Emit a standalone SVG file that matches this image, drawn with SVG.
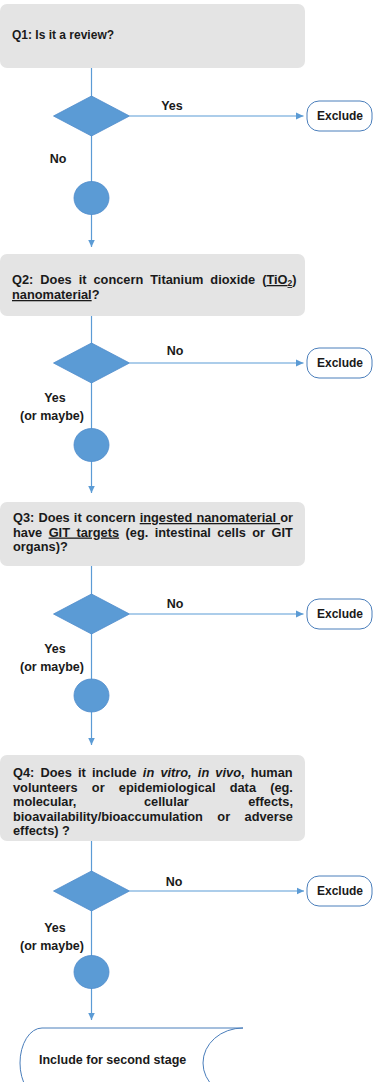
<svg xmlns="http://www.w3.org/2000/svg" width="373" height="1082" viewBox="0 0 373 1082">
<defs>
<style>
.box{fill:#e4e4e4}
.t{font-family:"Liberation Sans",Arial,sans-serif;font-weight:bold;font-size:12px;fill:#1a1a1a}
.q{font-size:12.8px}
.lb{font-size:12.5px}
.m{text-anchor:middle}
.ln{stroke:#5b9bd5;stroke-width:1.2;fill:none}
.dia{fill:#5b9bd5;stroke:#4f8ccb;stroke-width:0.8}
.ex{fill:#ffffff;stroke:#4a7ebb;stroke-width:1}
.u{text-decoration:underline}
.i{font-style:italic}
</style>
<marker id="arr" markerWidth="8" markerHeight="8" refX="7.5" refY="4" orient="auto" markerUnits="userSpaceOnUse">
<path d="M0,0.5 L7.5,4 L0,7.5 Z" fill="#5b9bd5"/>
</marker>
</defs>
<g id="connectors">
<path class="ln" d="M91.5,68 V247" marker-end="url(#arr)"/>
<path class="ln" d="M129.5,116 H303.5" marker-end="url(#arr)"/>
<path class="ln" d="M91.5,316 V493" marker-end="url(#arr)"/>
<path class="ln" d="M129.5,363 H303.5" marker-end="url(#arr)"/>
<path class="ln" d="M91.5,566 V745" marker-end="url(#arr)"/>
<path class="ln" d="M129.5,614 H303.5" marker-end="url(#arr)"/>
<path class="ln" d="M91.5,841 V1020" marker-end="url(#arr)"/>
<path class="ln" d="M129.5,891 H304" marker-end="url(#arr)"/>
<text class="t lb m" x="172" y="110">Yes</text>
<text class="t lb m" x="58" y="163">No</text>
<text class="t lb m" x="175" y="355">No</text>
<text class="t lb m" x="55" y="402">Yes</text>
<text class="t lb m" x="52" y="420">(or maybe)</text>
<text class="t lb m" x="175" y="608">No</text>
<text class="t lb m" x="55" y="653">Yes</text>
<text class="t lb m" x="52" y="671">(or maybe)</text>
<text class="t lb m" x="174" y="886">No</text>
<text class="t lb m" x="55" y="932">Yes</text>
<text class="t lb m" x="52" y="950">(or maybe)</text>
</g>
<g id="q1">
<rect class="box" x="0" y="4" width="305" height="64" rx="7"/>
<text class="t" x="12" y="39">Q1: Is it a review?</text>
</g>
<g id="d1"><polygon class="dia" points="53.5,116 91.5,96 129.5,116 91.5,136"/></g>
<g id="c1"><ellipse class="dia" cx="91.5" cy="198" rx="17.5" ry="16.5"/></g>
<g id="ex1">
<rect class="ex" x="307" y="101" width="65" height="30" rx="12"/>
<text class="t m" x="340" y="120.3">Exclude</text>
</g>
<g id="q2">
<rect class="box" x="0" y="254" width="305" height="62" rx="7"/>
<text class="t q" x="12" y="284" word-spacing="3.45">Q2: Does it concern Titanium dioxide (<tspan class="u">TiO<tspan font-size="8.5" dy="2">2</tspan></tspan><tspan dy="-2">)</tspan></text>
<text class="t q" x="12" y="299"><tspan class="u">nanomaterial</tspan>?</text>
</g>
<g id="d2"><polygon class="dia" points="53.5,363 91.5,343 129.5,363 91.5,383"/></g>
<g id="c2"><ellipse class="dia" cx="91.5" cy="445" rx="17.5" ry="16.5"/></g>
<g id="ex2">
<rect class="ex" x="307" y="348" width="65" height="30" rx="12"/>
<text class="t m" x="340" y="367.3">Exclude</text>
</g>
<g id="q3">
<rect class="box" x="0" y="502" width="305" height="64" rx="7"/>
<text class="t q" x="13" y="522" word-spacing="0.55">Q3: Does it concern <tspan class="u">ingested nanomaterial </tspan>or</text>
<text class="t q" x="13" y="536.5" word-spacing="2.9">have <tspan class="u">GIT targets</tspan> (eg. intestinal cells or GIT</text>
<text class="t q" x="13" y="551">organs)?</text>
</g>
<g id="d3"><polygon class="dia" points="53.5,614 91.5,594 129.5,614 91.5,634"/></g>
<g id="c3"><ellipse class="dia" cx="91.5" cy="695.5" rx="17.5" ry="16.5"/></g>
<g id="ex3">
<rect class="ex" x="307" y="599" width="65" height="30" rx="12"/>
<text class="t m" x="340" y="618.3">Exclude</text>
</g>
<g id="q4">
<rect class="box" x="0" y="755" width="305" height="86" rx="7"/>
<text class="t q" x="13" y="777" word-spacing="2.6">Q4: Does it include <tspan class="i">in vitro, in vivo</tspan>, human</text>
<text class="t q" x="13" y="791.5" word-spacing="10.6">volunteers or epidemiological data (eg.</text>
<text class="t q" x="13" y="806">molecular,</text>
<text class="t q" x="144" y="806">cellular</text>
<text class="t q" x="293" y="806" text-anchor="end">effects,</text>
<text class="t q" x="13" y="820.5" word-spacing="10.9">bioavailability/bioaccumulation or adverse</text>
<text class="t q" x="13" y="835">effects) ?</text>
</g>
<g id="d4"><polygon class="dia" points="53.5,891 91.5,871 129.5,891 91.5,911"/></g>
<g id="c4"><ellipse class="dia" cx="91.5" cy="972" rx="17.5" ry="16.5"/></g>
<g id="ex4">
<rect class="ex" x="307" y="876" width="65" height="30" rx="12"/>
<text class="t m" x="340" y="895.3">Exclude</text>
</g>
<g id="include">
<path class="ex" d="M42,1028 H243 A40,35 0 0 0 243,1098 H42 A22,35 0 0 1 42,1028 Z"/>
<text class="t lb" x="39" y="1064">Include for second stage</text>
</g>
</svg>
